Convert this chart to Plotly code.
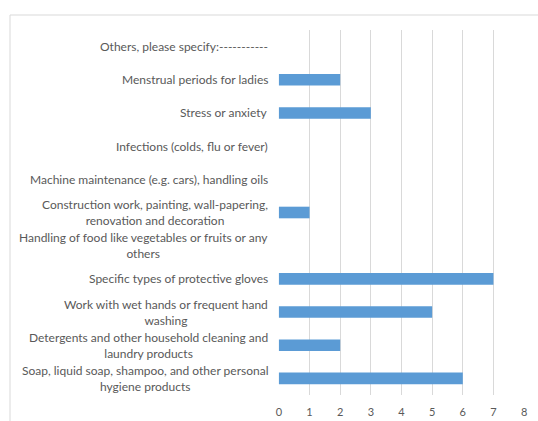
import plotly.graph_objects as go

categories = [
    "Soap, liquid soap, shampoo, and other personal<br>hygiene products",
    "Detergents and other household cleaning and<br>laundry products",
    "Work with wet hands or frequent hand<br>washing",
    "Specific types of protective gloves",
    "Handling of food like vegetables or fruits or any<br>others",
    "Construction work, painting, wall-papering,<br>renovation and decoration",
    "Machine maintenance (e.g. cars), handling oils",
    "Infections (colds, flu or fever)",
    "Stress or anxiety",
    "Menstrual periods for ladies",
    "Others, please specify:-----------",
]
values = [6, 2, 5, 7, 0, 1, 0, 0, 3, 2, 0]
x_ticks = [0, 1, 2, 3, 4, 5, 6, 7, 8]

W, H = 538, 421
L, R, T, B = 278, 13, 30, 26
pw = W - L - R
ph = H - T - B

fig = go.Figure(go.Bar(
    x=values, y=list(range(len(categories))), orientation="h",
    marker=dict(color="#5b9bd5", line=dict(width=0)),
    width=0.35, hoverinfo="x",
))

for i, c in enumerate(categories):
    fig.add_annotation(
        x=0, xref="paper", y=i, yref="y", text=c, showarrow=False,
        xanchor="right", yanchor="middle", align="center", xshift=-8,
        font=dict(family="Lato", size=12, color="#595959"),
    )

fig.add_shape(
    type="rect", xref="paper", yref="paper",
    x0=(10 - L) / pw, x1=(W + 20 - L) / pw,
    y0=-40 / ph, y1=(H - 15 - B) / ph,
    line=dict(color="#d9d9d9", width=1), layer="below",
)

fig.update_layout(
    width=W, height=H, margin=dict(l=L, r=R, t=T, b=B, autoexpand=False),
    paper_bgcolor="white", plot_bgcolor="white", showlegend=False,
    xaxis=dict(range=[-0.03, 8.03], tickvals=x_ticks, showgrid=True, gridcolor="#d9d9d9",
               gridwidth=1, zeroline=False, showline=False,
               ticks="outside", ticklen=7, tickcolor="rgba(0,0,0,0)", automargin=False,
               tickfont=dict(family="Lato", size=11, color="#595959"), fixedrange=True),
    yaxis=dict(range=[-0.5, len(categories) - 0.5], showticklabels=False, showgrid=False,
               zeroline=False, showline=False, ticks="", fixedrange=True, automargin=False),
)

fig.write_html("out.html")
